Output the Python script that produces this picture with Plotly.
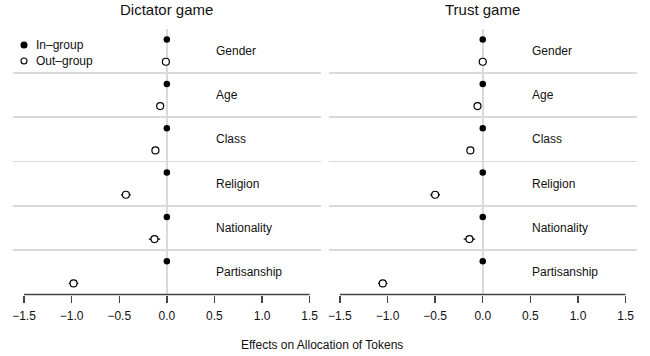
import plotly.graph_objects as go

# ---- data ----
categories = ["Gender", "Age", "Class", "Religion", "Nationality", "Partisanship"]
panels = ["Dictator game", "Trust game"]

dictator_in = [0.0, 0.0, 0.0, 0.0, 0.0, 0.0]
dictator_out = [-0.01, -0.07, -0.12, -0.43, -0.13, -0.98]
dictator_out_err = [0.03, 0.03, 0.03, 0.05, 0.06, 0.05]

trust_in = [0.0, 0.0, 0.0, 0.0, 0.0, 0.0]
trust_out = [0.0, -0.055, -0.13, -0.50, -0.14, -1.05]
trust_out_err = [0.03, 0.03, 0.03, 0.05, 0.06, 0.05]

x_ticks = [-1.5, -1.0, -0.5, 0.0, 0.5, 1.0, 1.5]
x_title = "Effects on Allocation of Tokens"
legend_labels = ["In\u2013group", "Out\u2013group"]

# ---- layout geometry ----
W, H = 650, 356
FONT = "Liberation Sans, Arial, Helvetica, sans-serif"
plot_top_px, plot_bot_px = 28.5, 294.5
y_dom = [1 - plot_bot_px / H, 1 - plot_top_px / H]
x_doms = [[12.6 / W, 321.1 / W], [328.5 / W, 637.0 / W]]
pad = 0.04 * (max(x_ticks) - min(x_ticks))
x_range = [min(x_ticks) - pad, max(x_ticks) + pad]

n = len(categories)
y_in = [2 * i for i in range(n)]
y_out = [2 * i + 1 for i in range(n)]
y_lab = [2 * i + 0.5 for i in range(n)]
y_sep = [2 * i + 1.5 for i in range(n - 1)]

fig = go.Figure()
series = [(dictator_in, dictator_out, dictator_out_err), (trust_in, trust_out, trust_out_err)]

for p, (vin, vout, verr) in enumerate(series):
    xa = "x" if p == 0 else "x2"
    ya = "y" if p == 0 else "y2"
    fig.add_trace(go.Scatter(
        x=vout, y=y_out, xaxis=xa, yaxis=ya, mode="markers",
        error_x=dict(type="data", array=verr, visible=True, width=0, thickness=1.4, color="#000"),
        marker=dict(symbol="circle", size=7, color="white", line=dict(color="#000", width=1.2)),
        showlegend=False, cliponaxis=False, hoverinfo="skip",
    ))
    fig.add_trace(go.Scatter(
        x=vin, y=y_in, xaxis=xa, yaxis=ya, mode="markers",
        marker=dict(symbol="circle", size=6.5, color="#000"),
        showlegend=False, cliponaxis=False, hoverinfo="skip",
    ))
    for cat, yl in zip(categories, y_lab):
        fig.add_annotation(x=0.5, y=yl, xref=xa, yref=ya, text=cat, showarrow=False,
                           xanchor="left", yanchor="middle",
                           font=dict(family=FONT, size=12, color="#111"))
    # panel title
    fig.add_annotation(x=0.5, y=1 - 9.5 / H, xref=f"{xa} domain", yref="paper", text=panels[p],
                       showarrow=False, xanchor="center", yanchor="middle",
                       font=dict(family=FONT, size=15, color="#111"))
    # axis line spanning tick range
    fig.add_shape(type="line", xref=xa, yref="paper", x0=min(x_ticks), x1=max(x_ticks),
                  y0=y_dom[0], y1=y_dom[0], line=dict(color="#444", width=1.3))

axis_common = dict(range=x_range, tickvals=x_ticks,
                   ticktext=[f"{v:.1f}".replace("-", "\u2212") for v in x_ticks],
                   ticks="outside", ticklen=7, tickwidth=1.3, tickcolor="#444",
                   showgrid=False, zeroline=True, zerolinecolor="#dadada", zerolinewidth=1.8,
                   showline=False, tickfont=dict(family=FONT, size=12, color="#111"),
                   ticklabelstandoff=3, fixedrange=True)
yaxis_common = dict(range=[2 * n - 0.5, -0.5], tickvals=y_sep, showticklabels=False,
                    showgrid=True, gridcolor="#dadada", gridwidth=1.8, zeroline=False,
                    ticks="", showline=False, domain=y_dom, fixedrange=True)

fig.update_layout(
    width=W, height=H, margin=dict(l=0, r=0, t=0, b=0),
    paper_bgcolor="white", plot_bgcolor="white", showlegend=False, hovermode=False,
    xaxis=dict(domain=x_doms[0], anchor="y", **axis_common),
    xaxis2=dict(domain=x_doms[1], anchor="y2", **axis_common),
    yaxis=dict(anchor="x", **yaxis_common),
    yaxis2=dict(anchor="x2", **yaxis_common),
    font=dict(family=FONT, color="#111"),
)

# shared axis title
fig.add_annotation(x=322 / W, y=1 - 345 / H, xref="paper", yref="paper", text=x_title,
                   showarrow=False, xanchor="center", yanchor="middle",
                   font=dict(family=FONT, size=12, color="#111"))

# manual legend (top-left of first panel)
leg_y = [1 - 45 / H, 1 - 61 / H]
leg_style = [dict(fill="#000", line="#000"), dict(fill="white", line="#000")]
for lab, ly, st in zip(legend_labels, leg_y, leg_style):
    fig.add_shape(type="circle", xref="paper", yref="paper", xsizemode="pixel", ysizemode="pixel",
                  xanchor=24 / W, yanchor=ly, x0=-3, x1=3, y0=-3, y1=3,
                  fillcolor=st["fill"], line=dict(color=st["line"], width=1.1))
    fig.add_annotation(x=34 / W, y=ly, xref="paper", yref="paper", text=lab, showarrow=False,
                       xanchor="left", yanchor="middle",
                       font=dict(family=FONT, size=12, color="#111"))

fig.write_html(
    "out.html",
    config={"displayModeBar": False, "staticPlot": True},
    post_script="document.body.style.margin='0';document.body.style.overflow='hidden';",
)
